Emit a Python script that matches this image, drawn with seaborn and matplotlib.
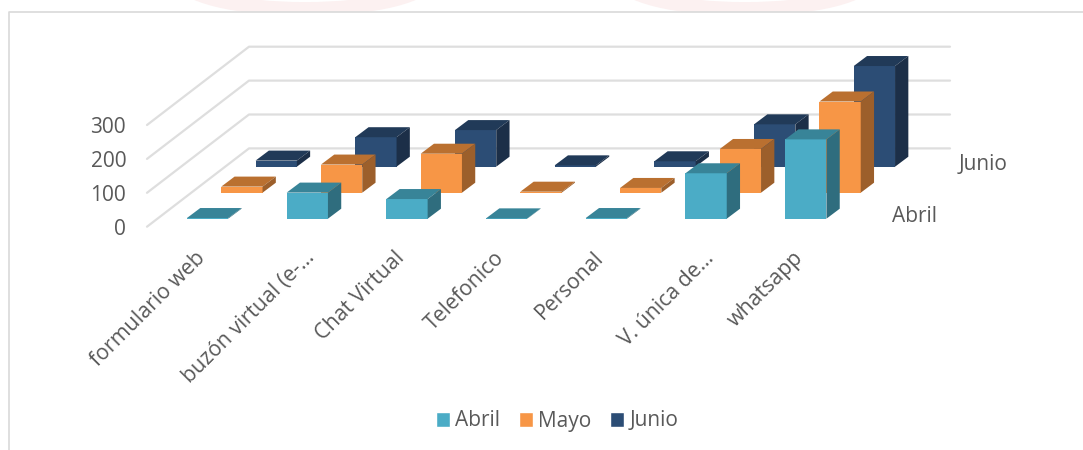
import matplotlib
matplotlib.use("Agg")
import matplotlib.pyplot as plt
from matplotlib.patches import Polygon, Patch, Ellipse, Rectangle
import numpy as np
import seaborn as sns

categories = ["formulario web", "buzón virtual (e-...", "Chat Virtual", "Telefonico",
              "Personal", "V. única de...", "whatsapp"]
abril = [2, 77, 58, 1, 2, 134, 234]
mayo = [18, 83, 115, 3, 14, 129, 269]
junio = [18, 87, 108, 4, 16, 125, 297]
yticks = [0, 100, 200, 300]

W, H = 1083, 450
PX_CAT = 99.7
PX_UNIT = 0.339
SERIES_DX = 34.3 / PX_CAT
SERIES_DY = 26.0 / PX_UNIT
DEPTH_X = 13.3 / PX_CAT
DEPTH_Y = 10.0 / PX_UNIT
FLOOR_X = 102.0 / PX_CAT
FLOOR_Y = 78.3 / PX_UNIT
FIRST_BASE = 8.0 / PX_UNIT
TEXT = "#595959"
GRID = "#DEDEDE"

sns.set_theme(style="white")
plt.rcParams["font.family"] = ["Open Sans", "DejaVu Sans"]

fig = plt.figure(figsize=(W / 100, H / 100), dpi=100, facecolor="white")


def fx(x):
    return x / W


def fy(y):
    return 1 - y / H


# faint watermark remains above the frame
for cx in (305, 745):
    fig.add_artist(Ellipse((fx(cx), fy(-22)), 250 / W, 62 / H, fill=False,
                           edgecolor="#FCF1F1", linewidth=10, transform=fig.transFigure,
                           zorder=-3))
fig.add_artist(Rectangle((0, 0), 1, fy(12), facecolor="white", edgecolor="none",
                         transform=fig.transFigure, zorder=-2))
fig.add_artist(plt.Line2D([fx(8.5), fx(8.5), 1], [0, fy(12), fy(12)], color="#D9D9D9",
                          linewidth=1.2, transform=fig.transFigure, zorder=-1))

ax = fig.add_axes([fx(147), fy(226.7), (950 - 147) / W, 180 / H])
ax.patch.set_alpha(0)
x0 = (147 - 207.6) / PX_CAT
x1 = (950 - 207.6) / PX_CAT

for v in yticks:
    ax.plot([x0, x0 + FLOOR_X, x1], [v, v + FLOOR_Y, v + FLOOR_Y], color=GRID,
            linewidth=1.6, zorder=0.5, clip_on=False)

series = [("Junio", junio, 2, "#2C4D75", "#213A58", "#1C2F48"),
          ("Mayo", mayo, 1, "#F79646", "#BA7030", "#9C5F2B"),
          ("Abril", abril, 0, "#4BACC6", "#388498", "#2F6D7E")]

for name, values, s, front, top, side in series:
    positions = np.arange(len(values)) + s * SERIES_DX
    base = FIRST_BASE + s * SERIES_DY
    n0 = len(ax.patches)
    sns.barplot(x=positions, y=values, native_scale=True, width=0.414, color=front,
                saturation=1, errorbar=None, bottom=base, linewidth=0, ax=ax,
                zorder=2 + (2 - s))
    for bar in list(ax.patches[n0:]):
        bx, by, bw, bh = bar.get_x(), bar.get_y(), bar.get_width(), bar.get_height()
        ax.add_patch(Polygon([(bx, by + bh), (bx + bw, by + bh),
                              (bx + bw + DEPTH_X, by + bh + DEPTH_Y),
                              (bx + DEPTH_X, by + bh + DEPTH_Y)],
                             facecolor=top, edgecolor="none", zorder=2 + (2 - s)))
        ax.add_patch(Polygon([(bx + bw, by), (bx + bw + DEPTH_X, by + DEPTH_Y),
                              (bx + bw + DEPTH_X, by + bh + DEPTH_Y), (bx + bw, by + bh)],
                             facecolor=side, edgecolor="none", zorder=2 + (2 - s)))

ax.set_xlim(x0, x1)
ax.set_ylim(0, 180 / PX_UNIT)
sns.despine(ax=ax, left=True, bottom=True)
ax.set_yticks(yticks)
label_shift = [(3 if c.endswith("...") else 13) / PX_CAT for c in categories]
ax.set_xticks(np.arange(len(categories)) - np.array(label_shift))
ax.set_xticklabels(categories, rotation=45, ha="right", rotation_mode="anchor")
ax.tick_params(axis="y", length=0, pad=15, labelsize=15, labelcolor=TEXT)
ax.tick_params(axis="x", length=0, pad=15, labelsize=15.3, labelcolor=TEXT)
for lab in ax.get_yticklabels():
    lab.set_va("center_baseline")
ax.set_xlabel("")
ax.set_ylabel("")
ax.grid(False)

fig.text(fx(915), fy(217), "Abril", ha="center", va="center", fontsize=15, color=TEXT)
fig.text(fx(983), fy(165), "Junio", ha="center", va="center", fontsize=15, color=TEXT)

handles = [Patch(facecolor=c, label=n) for n, c in
           (("Abril", "#4BACC6"), ("Mayo", "#F79646"), ("Junio", "#2C4D75"))]
fig.legend(handles=handles, loc="center", bbox_to_anchor=(fx(557), fy(421)), ncol=3,
           frameon=False, fontsize=15, handlelength=0.68, handleheight=0.76,
           handletextpad=0.25, columnspacing=0.9, labelcolor=TEXT, borderpad=0)

fig.savefig("out.png", dpi=100)
